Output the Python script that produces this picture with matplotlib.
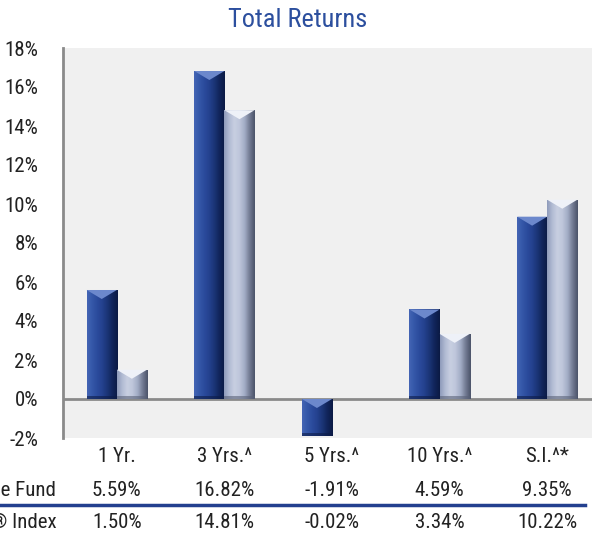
import matplotlib
matplotlib.use("Agg")
import matplotlib.pyplot as plt
import numpy as np
from matplotlib.colors import LinearSegmentedColormap
from matplotlib.patches import Polygon, Rectangle
from matplotlib.transforms import blended_transform_factory

plt.rcParams['font.family'] = ['Roboto Condensed', 'DejaVu Sans']

categories = ["1 Yr.", "3 Yrs.^", "5 Yrs.^", "10 Yrs.^", "S.I.^*"]
fund = [5.59, 16.82, -1.91, 4.59, 9.35]
index = [1.50, 14.81, -0.02, 3.34, 10.22]
row_labels = ["Value Fund", "S&P 500® Index"]
yticks = [-2, 0, 2, 4, 6, 8, 10, 12, 14, 16, 18]

W, H = 592, 533
fig = plt.figure(figsize=(W / 100, H / 100), dpi=100)
fig.patch.set_facecolor("white")

ax_left, ax_right_px = 63, 601
ax_top, ax_bot = 48, 438
ax = fig.add_axes([ax_left / W, (H - ax_bot) / H, (ax_right_px - ax_left) / W, (ax_bot - ax_top) / H])
ax.set_facecolor("#f0f0f0")
ax.set_xlim(-0.5, 4.5)
ax.set_ylim(-2, 18)

for s in ["top", "right", "bottom"]:
    ax.spines[s].set_visible(False)
ax.spines["left"].set_color("#8a8a8a")
ax.spines["left"].set_linewidth(2)
ax.set_yticks(yticks)
ax.set_yticklabels([f"{v}%" for v in yticks], fontsize=15, color="#222222")
ax.tick_params(axis="y", length=0, pad=18)
ax.set_xticks([])
ax.axhline(0, color="#8a8a8a", lw=2, zorder=1)

px_per_unit = (ax_bot - ax_top) / 20.0
bevel = 9 / px_per_unit
bot_bevel = 3 / px_per_unit

fund_cmap = LinearSegmentedColormap.from_list(
    "f", ["#4465b4", "#3457a8", "#2b4b9c", "#24418e", "#1a3475", "#11245a", "#0b1a44"])
idx_cmap = LinearSegmentedColormap.from_list(
    "i", ["#8f9bbb", "#b2bcd4", "#c8cfe1", "#bec6db", "#a3adc6", "#737c94", "#4b5369"])

bw = 0.28
x = np.arange(len(categories))
grad = np.linspace(0, 1, 64).reshape(1, -1)

def draw_bars(xs, vals, cmap, top_col, bottom_col):
    bars = ax.bar(xs, vals, width=bw, color="none", edgecolor="none", zorder=3)
    for b, v in zip(bars, vals):
        x0 = b.get_x()
        x1 = x0 + b.get_width()
        y0, y1 = (0, v) if v >= 0 else (v, 0)
        if y1 - y0 < 0.05:
            continue
        im = ax.imshow(grad, cmap=cmap, extent=[x0, x1, y0, y1], aspect="auto",
                       interpolation="bicubic", zorder=3)
        im.set_clip_path(b)
        d = min(bevel, (y1 - y0) * 0.5)
        xc = (x0 + x1) / 2
        ax.add_patch(Polygon([[x0, y1], [x1, y1], [xc, y1 - d]], closed=True,
                             facecolor=top_col, edgecolor="none", zorder=4))
        bb = min(bot_bevel, (y1 - y0) * 0.2)
        ax.add_patch(Rectangle((x0, y0), x1 - x0, bb, facecolor=bottom_col,
                               edgecolor="none", zorder=4, alpha=0.6))

draw_bars(x - bw / 2, fund, fund_cmap, "#6c88cc", "#0d1c48")
draw_bars(x + bw / 2, index, idx_cmap, "#eef1f8", "#5a6278")

fig.text(298 / W, 1 - 20 / H, "Total Returns", ha="center", va="center",
         fontsize=19, color="#2c4f9e")

tr = blended_transform_factory(ax.transData, fig.transFigure)
y_cat, y_r1, y_r2 = 1 - 456 / H, 1 - 490 / H, 1 - 523 / H
for i, c in enumerate(categories):
    ax.text(i, y_cat, c, transform=tr, ha="center", va="center", fontsize=15,
            color="#222222", clip_on=False)
    ax.text(i, y_r1, f"{fund[i]:.2f}%", transform=tr, ha="center", va="center",
            fontsize=15, color="#222222", clip_on=False)
    ax.text(i, y_r2, f"{index[i]:.2f}%", transform=tr, ha="center", va="center",
            fontsize=15, color="#222222", clip_on=False)

fig.text(56 / W, y_r1, row_labels[0], ha="right", va="center", fontsize=15, color="#222222")
fig.text(57 / W, y_r2, row_labels[1], ha="right", va="center", fontsize=15, color="#222222")

fig.add_artist(plt.Line2D([0, 585 / W], [1 - 505 / H, 1 - 505 / H], color="#23408f",
                          lw=2.5, transform=fig.transFigure))

fig.savefig("out.png", dpi=100)
